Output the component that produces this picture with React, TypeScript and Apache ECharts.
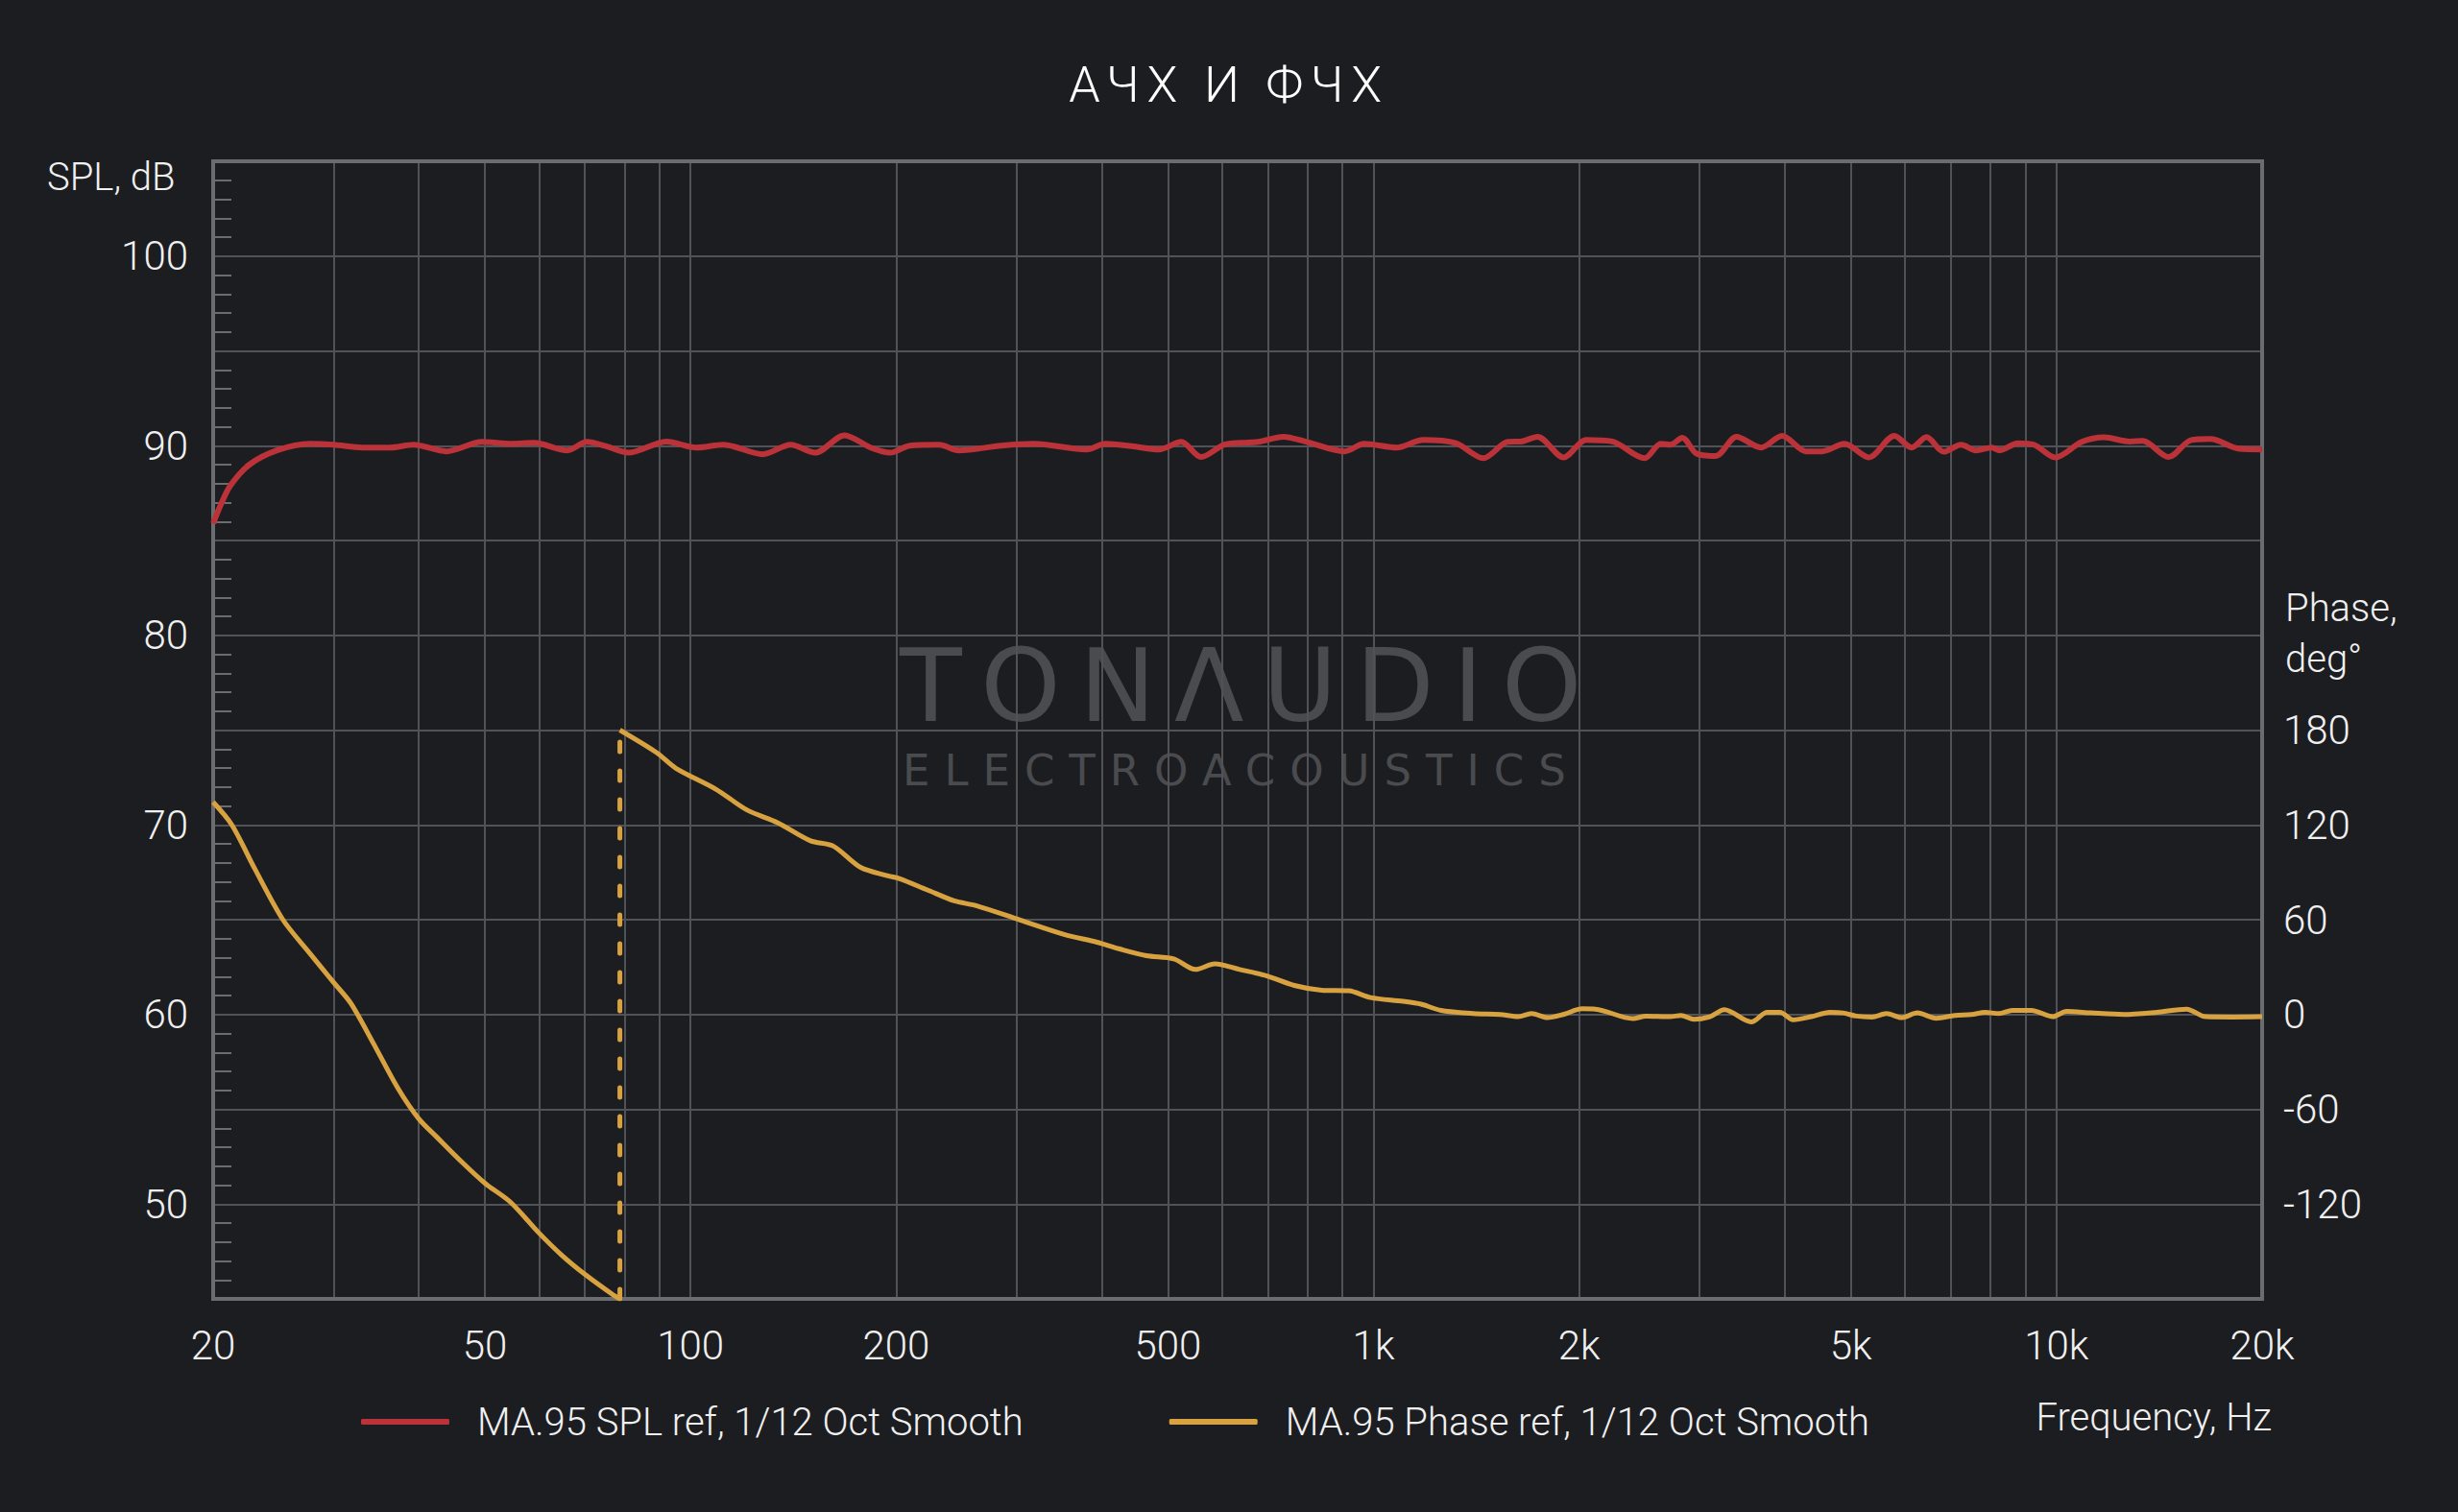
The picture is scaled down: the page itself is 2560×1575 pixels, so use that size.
import React, { useEffect, useRef } from 'react';
import * as echarts from 'echarts';

const TITLE = 'АЧХ И ФЧХ';
const SPL_NAME = 'MA.95 SPL ref, 1/12 Oct Smooth';
const PHASE_NAME = 'MA.95 Phase ref, 1/12 Oct Smooth';
const WRAP_NAME = 'phase wrap';
const Y_LEFT_NAME = 'SPL, dB';
const Y_RIGHT_NAME = 'Phase,\ndeg°';
const X_NAME = 'Frequency, Hz';
const WM_1 = 'TONΛUDIO';
const WM_2 = 'ELECTROACOUSTICS';

const GRID_FREQS = [20, 30, 40, 50, 60, 70, 80, 90, 100, 200, 300, 400, 500, 600, 700, 800, 900, 1000, 2000, 3000, 4000, 5000, 6000, 7000, 8000, 9000, 10000, 20000];
const LABEL_FREQS = [20, 50, 100, 200, 500, 1000, 2000, 5000, 10000, 20000];
const SPL_LABELS = [50, 60, 70, 80, 90, 100];
const PHASE_LABELS = [-120, -60, 0, 60, 120, 180];

const SPL_FREQ = [20, 20.5, 21.2, 22.6, 24.8, 27.7, 30, 33.1, 36.3, 39.3, 43.9, 49.5, 54.7, 59, 66, 70.5, 75.3, 81.1, 92.2, 102, 111.7, 127.6, 140.2, 152.2, 168.1, 183.5, 196.1, 209.4, 231.2, 247, 285, 318, 380, 405, 443, 485, 523, 559, 604, 640, 678, 738, 794, 907, 969, 1082, 1182, 1320, 1448, 1573, 1644, 1738, 1898, 2049, 2236, 2494, 2634, 2722, 2832, 2971, 3171, 3400, 3692, 3965, 4297, 4538, 4893, 5310, 5789, 6137, 6451, 6837, 7248, 7618, 8043, 8256, 8775, 9270, 9956, 10890, 11742, 12800, 13370, 14590, 15750, 16800, 18530, 20000];
const SPL_DB = [85.9, 86.85, 87.9, 89.0, 89.75, 90.1, 90.05, 89.9, 89.9, 90.05, 89.7, 90.2, 90.1, 90.15, 89.75, 90.2, 89.97, 89.63, 90.22, 89.9, 90.05, 89.55, 90.05, 89.63, 90.55, 89.9, 89.63, 90.0, 90.05, 89.75, 90.0, 90.1, 89.8, 90.1, 89.97, 89.8, 90.2, 89.4, 90.05, 90.15, 90.2, 90.47, 90.22, 89.7, 90.1, 89.9, 90.3, 90.13, 89.34, 90.2, 90.22, 90.47, 89.38, 90.3, 90.22, 89.34, 90.1, 90.05, 90.42, 89.58, 89.46, 90.47, 89.9, 90.52, 89.7, 89.7, 90.1, 89.38, 90.52, 89.9, 90.45, 89.68, 90.05, 89.75, 89.9, 89.75, 90.13, 90.05, 89.38, 90.2, 90.44, 90.22, 90.25, 89.4, 90.3, 90.35, 89.83, 89.8];

const PHASE_LOW_FREQ = [20, 21.3, 23, 25.3, 27.6, 30, 31.8, 34.3, 37.3, 40, 42.6, 46.3, 50, 54.5, 59.9, 64.8, 70, 77.1, 78.8];
const PHASE_LOW_DEG = [134.4, 120, 92.4, 60, 39.6, 20.4, 7.2, -18, -46.8, -66, -78, -93.6, -106.8, -118.8, -138, -152.4, -164.4, -177.6, -180];

const PHASE_HIGH_FREQ = [78.8, 89.1, 95.2, 108.9, 120.9, 134.1, 149.9, 161.6, 177.4, 194.7, 202, 221.8, 243.3, 261.9, 303.7, 352.3, 393.7, 423.8, 464.9, 510, 548.8, 585.6, 636.7, 698, 765.4, 839.2, 920, 990, 1105, 1174, 1255, 1399, 1531, 1629, 1703, 1797, 1896, 2020, 2113, 2397, 2506, 2718, 2818, 2946, 3109, 3263, 3573, 3770, 3937, 4116, 4376, 4655, 4868, 5090, 5370, 5636, 5926, 6256, 6666, 7104, 7508, 7862, 8231, 8615, 9187, 9880, 10340, 11230, 12540, 14020, 15500, 16530, 18100, 20000];
const PHASE_HIGH_DEG = [180, 165.9, 155.8, 142.6, 129.5, 121.4, 109.9, 106.7, 93.1, 87.7, 86.1, 79, 71.9, 68.9, 59.8, 50.7, 45.7, 41.6, 37.2, 35.2, 28.5, 32.1, 28.5, 24.4, 18.4, 15.4, 15, 10.7, 8.3, 6.5, 2.6, 0.6, 0, -1.4, 0.6, -2, 0, 3.6, 3.4, -2.6, -1, -1.4, -0.6, -3, -1.4, 3, -4.7, 1.4, 1.4, -3.4, -1.4, 1.4, 1, -1, -1.6, 0.6, -2, 1, -2.4, -0.6, 0, 1.4, 0.6, 2.6, 2.6, -1.4, 2, 1, 0, 1.4, 3.4, -1.4, -1.6, -1.4];

const WRAP_FREQ = 78.8;
const WRAP_DEG = [-180, 180];

const FONT = 'Roboto, "Noto Sans", sans-serif';
const BG = '#1c1d20';
const RED = '#bb3239';
const GOLD = '#d8a240';
const GRID_LINE = '#505257';
const BORDER = '#6b6c6f';
const TEXT = '#f0f0f0';
const WM = '#4a4b4e';

const zip = (xs: number[], ys: number[]) => xs.map((x, i) => [x, ys[i]]);

const fmtFreq = (v: number) => {
  const r = Math.round(v);
  return r >= 1000 ? `${r / 1000}k` : `${r}`;
};

export default function App() {
  const ref = useRef<HTMLDivElement>(null);

  useEffect(() => {
    const el = ref.current;
    if (!el) return;
    document.body.style.margin = '0';
    document.body.style.background = BG;
    const chart = echarts.init(el, null, { renderer: 'svg' });

    const labelStyle = { color: TEXT, fontSize: 42, fontFamily: FONT, fontWeight: 300 };

    chart.setOption({
      animation: false,
      backgroundColor: BG,
      grid: {
        left: 222,
        right: 204,
        top: 168,
        bottom: 222,
        show: true,
        borderColor: BORDER,
        borderWidth: 4,
        backgroundColor: 'transparent',
        z: 1,
      },
      xAxis: {
        type: 'log',
        logBase: 10,
        min: 20,
        max: 20000,
        axisLine: { show: false },
        axisTick: { show: false, customValues: GRID_FREQS },
        splitLine: { show: true, lineStyle: { color: GRID_LINE, width: 2 } },
        minorSplitLine: { show: false },
        axisLabel: {
          ...labelStyle,
          margin: 27,
          customValues: LABEL_FREQS,
          formatter: (v: number) => fmtFreq(v),
        },
      },
      yAxis: [
        {
          type: 'value',
          min: 45,
          max: 105,
          interval: 5,
          position: 'left',
          axisLine: { show: false },
          axisTick: { show: false, inside: true },
          minorTick: { show: true, splitNumber: 5, length: 19, lineStyle: { color: BORDER, width: 2 } },
          splitLine: { show: true, lineStyle: { color: GRID_LINE, width: 2 } },
          axisLabel: {
            ...labelStyle,
            margin: 26,
            formatter: (v: number) => (SPL_LABELS.includes(v) ? `${v}` : ''),
          },
        },
        {
          type: 'value',
          min: -180,
          max: 540,
          interval: 60,
          position: 'right',
          axisLine: { show: false },
          axisTick: { show: false },
          splitLine: { show: false },
          axisLabel: {
            ...labelStyle,
            margin: 22,
            formatter: (v: number) => (PHASE_LABELS.includes(v) ? `${v}` : ''),
          },
        },
      ],
      legend: {
        data: [SPL_NAME, PHASE_NAME],
        left: 371,
        top: 1456,
        icon: 'roundRect',
        itemWidth: 92,
        itemHeight: 6,
        itemGap: 152,
        textStyle: { ...labelStyle, fontSize: 40, padding: [0, 0, 0, 24] },
      },
      graphic: [
        {
          type: 'text',
          x: 1280,
          y: 88,
          z: 10,
          style: { text: TITLE, fill: '#ffffff', fontSize: 52, fontFamily: FONT, fontWeight: 300, align: 'center', verticalAlign: 'middle' },
        },
        {
          type: 'text',
          x: 49,
          y: 184,
          z: 10,
          style: { text: Y_LEFT_NAME, fill: TEXT, fontSize: 40, fontFamily: FONT, fontWeight: 300, align: 'left', verticalAlign: 'middle' },
        },
        {
          type: 'text',
          x: 2380,
          y: 607,
          z: 10,
          style: { text: Y_RIGHT_NAME, fill: TEXT, fontSize: 40, fontFamily: FONT, fontWeight: 300, align: 'left', verticalAlign: 'top', lineHeight: 53 },
        },
        {
          type: 'text',
          x: 2366,
          y: 1476,
          z: 10,
          style: { text: X_NAME, fill: TEXT, fontSize: 40, fontFamily: FONT, fontWeight: 300, align: 'right', verticalAlign: 'middle' },
        },
        {
          type: 'text',
          x: 937,
          y: 714,
          z: -10,
          style: { text: WM_1, fill: WM, fontSize: 106, fontFamily: '"DejaVu Sans", sans-serif', align: 'left', verticalAlign: 'middle' },
        },
        {
          type: 'text',
          x: 940,
          y: 802,
          z: -10,
          style: { text: WM_2, fill: WM, fontSize: 45, fontFamily: '"DejaVu Sans", sans-serif', align: 'left', verticalAlign: 'middle' },
        },
      ],
      series: [
        {
          name: SPL_NAME,
          type: 'line',
          yAxisIndex: 0,
          data: zip(SPL_FREQ, SPL_DB),
          showSymbol: false,
          smooth: 0.3,
          z: 4,
          itemStyle: { color: RED },
          lineStyle: { color: RED, width: 6 },
        },
        {
          name: PHASE_NAME,
          type: 'line',
          yAxisIndex: 1,
          data: zip(PHASE_LOW_FREQ, PHASE_LOW_DEG),
          showSymbol: false,
          smooth: 0.3,
          z: 3,
          itemStyle: { color: GOLD },
          lineStyle: { color: GOLD, width: 5 },
        },
        {
          name: PHASE_NAME,
          type: 'line',
          yAxisIndex: 1,
          data: zip(PHASE_HIGH_FREQ, PHASE_HIGH_DEG),
          showSymbol: false,
          smooth: 0.3,
          z: 3,
          itemStyle: { color: GOLD },
          lineStyle: { color: GOLD, width: 5 },
        },
        {
          name: WRAP_NAME,
          type: 'line',
          yAxisIndex: 1,
          data: WRAP_DEG.map((d) => [WRAP_FREQ, d]),
          showSymbol: false,
          z: 3,
          itemStyle: { color: GOLD },
          lineStyle: { color: GOLD, width: 5, type: [10, 20], cap: 'round' },
        },
      ],
    });

    const spacing: Record<string, string> = {
      [TITLE]: '7.5',
      [WM_1]: '19.5',
      [WM_2]: '15',
    };
    el.querySelectorAll('text').forEach((t) => {
      const s = spacing[t.textContent || ''];
      if (s) t.setAttribute('letter-spacing', s);
    });

    return () => chart.dispose();
  }, []);

  return <div ref={ref} style={{ position: 'fixed', left: 0, top: 0, width: 2560, height: 1575 }} />;
}
